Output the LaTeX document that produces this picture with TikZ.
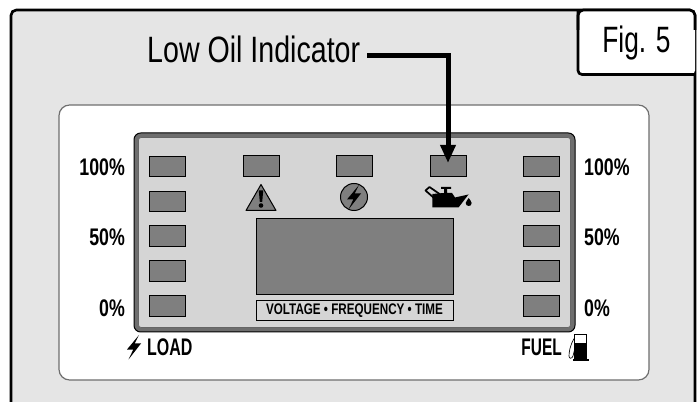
\documentclass[tikz,border=0pt]{standalone}
\usepackage{fontspec}
\setmainfont{Liberation Sans}
\usetikzlibrary{arrows.meta}
\definecolor{panelgray}{HTML}{E5E5E5}
\definecolor{edgegray}{HTML}{6E6E6E}
\definecolor{screengray}{HTML}{D5D5D5}
\definecolor{ledgray}{HTML}{7F7F7F}
\tikzset{
  led/.style={draw=black,line width=0.75pt,fill=ledgray,minimum width=27pt,minimum height=15.5pt,inner sep=0pt},
  biglabel/.style={font=\fontsize{27.5}{28}\selectfont,xscale=0.78,inner sep=0pt},
  levellabel/.style={font=\fontsize{18}{18}\selectfont\bfseries,xscale=0.74,inner sep=0pt},
  bolt/.pic={\fill[black] (5,-12) -- (-7,2.5) -- (-0.7,2.5) -- (-5.5,12.5) -- (7,-3.5) -- (0.7,-3.5) -- cycle;}
}
\begin{document}
\begin{tikzpicture}[x=0.75pt,y=-0.75pt]
  \useasboundingbox (0,0) rectangle (699,402);
  \draw[line width=2pt,fill=panelgray,rounded corners=4pt] (11,403) -- (11,10) -- (695,10) -- (695,403);
  \fill[white,rounded corners=3pt] (578,10) rectangle (695,74.5);
  \draw[line width=2pt,rounded corners=4pt] (578,30) -- (578,10) -- (695,10) -- (695,30);
  \draw[line width=2pt,rounded corners=3pt] (578,10) -- (578,74.5) -- (600,74.5);
  \draw[line width=2pt] (590,74.5) -- (695,74.5);
  \draw[line width=0.9pt,draw=edgegray,fill=white,rounded corners=8pt] (59,105) rectangle (649,380);
  \draw[line width=0.75pt,fill=edgegray,rounded corners=5pt] (134,133) rectangle (575,332);
  \draw[line width=0.5pt,draw=black!60,fill=screengray,rounded corners=2pt] (138.5,137.5) rectangle (570.5,327.5);
  \foreach \i/\y in {1/166.5,2/201.5,3/236,4/271,5/306} {
    \node[led] (ledleft\i) at (167.5,\y) {};
    \node[led] (ledright\i) at (541,\y) {};
  }
  \node[led] (ledwarn) at (261,166) {};
  \node[led] (ledbolt) at (354,166) {};
  \node[led] (ledoil) at (448,166) {};
  \node[led,minimum width=147.75pt,minimum height=57pt] (bigscreen) at (354.5,257) {};
  \node[draw=black,line width=0.75pt,fill=screengray,minimum width=147.75pt,minimum height=15pt,inner sep=0pt,
        font=\fontsize{11.5}{12}\selectfont\bfseries] (scalebox) at (354.5,311) {\scalebox{0.76}[1]{VOLTAGE • FREQUENCY • TIME}};
  \node[biglabel,anchor=base west] (lowoil) at (147,63) {Low Oil Indicator};
  \node[biglabel,xscale=0.92,anchor=base] (figlabel) at (636.5,53) {Fig. 5};
  \coordinate (oilstart) at (367,56);
  \draw[line width=3.75pt,-{Triangle[length=13.5pt,width=11pt]},shorten >=2.25pt] (oilstart) -| (ledoil.center);
  \node[levellabel,anchor=base east] (left100) at (125,176) {100\%};
  \node[levellabel,anchor=base east] (left50) at (125,246) {50\%};
  \node[levellabel,anchor=base east] (left0) at (125,316) {0\%};
  \node[levellabel,anchor=base west] (right100) at (584,176) {100\%};
  \node[levellabel,anchor=base west] (right50) at (584,246) {50\%};
  \node[levellabel,anchor=base west] (right0) at (584,316) {0\%};
  \node[levellabel,xscale=0.9,anchor=base west] (loadlabel) at (147,355) {LOAD};
  \node[levellabel,xscale=0.87,anchor=base east] (fuellabel) at (562,355) {FUEL};
  \pic at (134,347) {bolt};
  \draw[line width=0.75pt,fill=ledgray,line join=round] (261,184.5) -- (276,210.5) -- (246,210.5) -- cycle;
  \fill[black] (258.8,190.5) -- (263.2,190.5) -- (262.2,202) -- (259.8,202) -- cycle;
  \fill[black] (261,205.5) circle[radius=2.3];
  \draw[line width=0.75pt,fill=ledgray] (354,197) circle[radius=13.5];
  \pic at (354,197) {bolt};
  \fill[black] (432.3,194) -- (438,193.5) -- (444,193) -- (444,189) -- (441,189) -- (441,187) -- (451,187) -- (451,189) -- (447,189)
    -- (447,193) -- (452,193) -- (455,197.5) -- (468.5,194.5) -- (458.5,207.5) -- (432.3,207.5) -- cycle;
  \draw[line width=1.3pt,line join=round] (425.5,190.5) -- (429.5,187) -- (441,195) -- (434,198) -- cycle;
  \fill[black] (468.7,198) .. controls (469.5,200) and (471.7,201) .. (471.7,203) .. controls (471.7,207) and (465.7,207) .. (465.7,203) .. controls (465.7,201) and (468,200) .. (468.7,198) -- cycle;
  \draw[line width=0.75pt,fill=white] (574.5,334.5) rectangle (586.5,359);
  \fill[black] (574.5,343) rectangle (586.5,359);
  \fill[black] (572.5,358.5) rectangle (588.5,361);
  \draw[line width=0.5pt] (574.5,338) .. controls (570,345) and (569,352) .. (569,356) .. controls (569,359) and (572,359) .. (573,356) -- (574.5,350);
\end{tikzpicture}
\end{document}
